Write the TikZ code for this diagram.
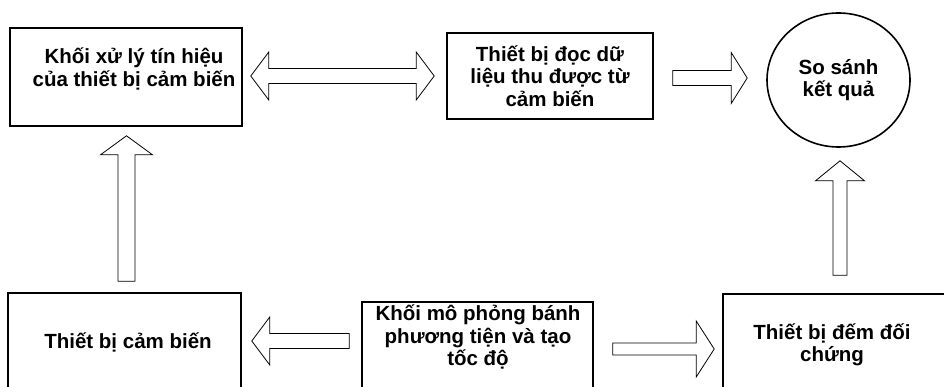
\documentclass[tikz,border=0pt]{standalone}
\usepackage{fontspec}
\setmainfont{Liberation Sans}
\usetikzlibrary{calc,shapes.geometric}
\tikzset{
  box/.style={draw, line width=1.6pt, inner sep=0pt, align=center, font=\fontsize{20.5}{22.5}\selectfont\bfseries},
  txt/.style={inner sep=0pt, align=center, font=\fontsize{20.5}{22.5}\selectfont\bfseries},
  blk/.style={draw, line width=0.8pt, fill=white, line join=miter},
}
% horizontal arrow pointing right: start, tip, shaft half, head half, head length
\newcommand\myArrR[5]{\draw[blk] let \p1=(#1), \p2=(#2) in
  (\x1,\y1+#3) -- (\x2-#5,\y1+#3) -- (\x2-#5,\y1+#4) -- (\x2,\y1) -- (\x2-#5,\y1-#4) -- (\x2-#5,\y1-#3) -- (\x1,\y1-#3) -- cycle;}
% horizontal arrow pointing left
\newcommand\myArrL[5]{\draw[blk] let \p1=(#1), \p2=(#2) in
  (\x1,\y1+#3) -- (\x2+#5,\y1+#3) -- (\x2+#5,\y1+#4) -- (\x2,\y1) -- (\x2+#5,\y1-#4) -- (\x2+#5,\y1-#3) -- (\x1,\y1-#3) -- cycle;}
% vertical arrow pointing up
\newcommand\myArrU[5]{\draw[blk] let \p1=(#1), \p2=(#2) in
  (\x1-#3,\y1) -- (\x1-#3,\y2-#5) -- (\x1-#4,\y2-#5) -- (\x1,\y2) -- (\x1+#4,\y2-#5) -- (\x1+#3,\y2-#5) -- (\x1+#3,\y1) -- cycle;}
% double horizontal arrow
\newcommand\myArrD[5]{\draw[blk] let \p1=(#1), \p2=(#2) in
  (\x1,\y1) -- (\x1+#5,\y1+#4) -- (\x1+#5,\y1+#3) -- (\x2-#5,\y1+#3) -- (\x2-#5,\y1+#4) -- (\x2,\y1)
  -- (\x2-#5,\y1-#4) -- (\x2-#5,\y1-#3) -- (\x1+#5,\y1-#3) -- (\x1+#5,\y1-#4) -- cycle;}
\begin{document}
\begin{tikzpicture}[x=1pt,y=-1pt]
\useasboundingbox (0,0) rectangle (944,387);
\clip (0,0) rectangle (944,387);
\fill[white] (0,0) rectangle (944,387);

% boxes
\node[box, minimum width=232pt, minimum height=98pt] (b1) at (126,77) {};
\node[txt] (t1) at (134,69) {Khối xử lý tín hiệu\\của thiết bị cảm biến};
\node[box, minimum width=206pt, minimum height=86pt] (b2) at (550,76) {Thiết bị đọc dữ\\liệu thu được từ\\cảm biến};
\node[box, ellipse, minimum width=143pt, minimum height=134pt] (c) at (838.5,80) {So sánh\\kết quả};
\node[box, minimum width=233pt, minimum height=104pt] (b3) at (124.5,345) {};
\node[box, minimum width=231pt, minimum height=96pt] (b4) at (477.5,350) {};
\node[box, minimum width=237pt, minimum height=104pt] (b5) at (841.5,346) {};
\node[txt] (t3) at (128,342) {Thiết bị cảm biến};
\node[txt] (t4) at (478,337) {Khối mô phỏng bánh\\phương tiện và tạo\\tốc độ};
\node[txt] (t5) at (832,345) {Thiết bị đếm đối\\chứng};

% arrow end points
\coordinate (d1) at ($(b1.east)+(8,-1)$);
\coordinate (d2) at ($(b2.west)+(-12,0)$);
\coordinate (r1s) at ($(b2.east)+(19,2)$);
\coordinate (r1t) at ($(c.west)+(-19,0)$);
\coordinate (u1s) at ($(b3.north)+(2,-11)$);
\coordinate (u1t) at ($(b1.south)+(0,9)$);
\coordinate (u2s) at ($(c.south |- b5.north)+(1.5,-18)$);
\coordinate (u2t) at ($(c.south)+(0,13)$);
\coordinate (l1s) at ($(b4.west)+(-12,-9)$);
\coordinate (l1t) at ($(b3.east)+(10,0)$);
\coordinate (r2s) at ($(b4.east)+(19,-1)$);
\coordinate (r2t) at ($(b5.west)+(-8,0)$);

% block arrows
\myArrD{d1}{d2}{7.5pt}{24pt}{18pt}
\myArrR{r1s}{r1t}{7.5pt}{25.5pt}{16pt}
\myArrU{u1s}{u1t}{8.5pt}{26pt}{19pt}
\myArrU{u2s}{u2t}{7pt}{24.5pt}{20pt}
\myArrL{l1s}{l1t}{7.5pt}{24pt}{18pt}
\myArrR{r2s}{r2t}{6pt}{28pt}{18pt}
\end{tikzpicture}
\end{document}
